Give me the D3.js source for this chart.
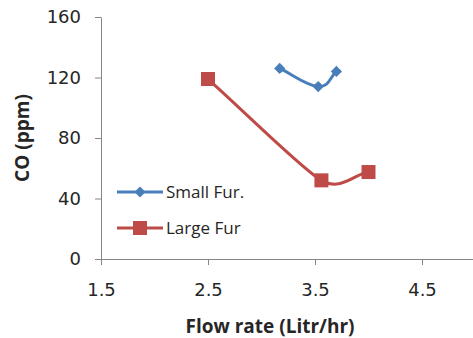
<!DOCTYPE html>
<html>
<head>
<meta charset="utf-8">
<script src="https://cdn.jsdelivr.net/npm/d3@7"></script>
<style>
  body { margin: 0; background: #fff; }
  svg text { font-family: "Open Sans", sans-serif; fill: #262626; }
</style>
</head>
<body>
<div id="chart"></div>
<script>
// data
const seriesNames = ["Small Fur.", "Large Fur"];
const smallFlow = [3.17, 3.53, 3.7];
const smallCO = [126, 114, 124];
const largeFlow = [2.5, 3.56, 4.0];
const largeCO = [119, 52, 57.5];
const xTicks = [1.5, 2.5, 3.5, 4.5];
const yTicks = [0, 40, 80, 120, 160];

const W = 473, H = 338;
const svg = d3.select('#chart').append('svg')
  .attr('width', W).attr('height', H);

const x = d3.scaleLinear().domain([1.5, 5]).range([101, 101 + 107 * 3.5]);
const y = d3.scaleLinear().domain([0, 160]).range([259, 17]);

// y axis
const gy = svg.append('g')
  .attr('transform', 'translate(101,0)')
  .call(d3.axisLeft(y).tickValues(yTicks).tickSize(6).tickPadding(14).tickSizeOuter(0));
gy.select('.domain').attr('stroke', '#868686');
gy.selectAll('.tick line').attr('stroke', '#868686');
gy.selectAll('.tick text').style('font-family', '"DejaVu Sans"').style('font-size', '18px').attr('fill', '#333');

// x axis
const gx = svg.append('g')
  .attr('transform', 'translate(0,259)')
  .call(d3.axisBottom(x).tickValues(xTicks).tickFormat(d3.format('.1f')).tickSize(6).tickPadding(18).tickSizeOuter(0));
gx.select('.domain').attr('stroke', '#868686');
gx.selectAll('.tick line').attr('stroke', '#868686');
gx.selectAll('.tick text').style('font-family', '"DejaVu Sans"').style('font-size', '18px').attr('fill', '#333');

// axis titles
svg.append('text')
  .attr('x', 270).attr('y', 333)
  .attr('text-anchor', 'middle')
  .style('font-size', '19px').style('font-weight', 'bold')
  .text('Flow rate (Litr/hr)');
svg.append('text')
  .attr('transform', 'translate(29,138) rotate(-90)')
  .attr('text-anchor', 'middle')
  .style('font-size', '19px').style('font-weight', 'bold')
  .text('CO (ppm)');

const colors = ['#4a7ebb', '#be4b48'];
const series = [
  smallFlow.map((f, i) => ({x: f, y: smallCO[i]})),
  largeFlow.map((f, i) => ({x: f, y: largeCO[i]}))
];

// smooth line like the spreadsheet one: tangent length limited by the shorter neighbouring segment
function smoothPath(pts) {
  const p = pts.map(d => [x(d.x), y(d.y)]);
  const n = p.length;
  const dist = (a, b) => Math.hypot(b[0] - a[0], b[1] - a[1]);
  const tan = p.map((pt, i) => {
    const a = p[Math.max(0, i - 1)], b = p[Math.min(n - 1, i + 1)];
    const dx = b[0] - a[0], dy = b[1] - a[1], len = Math.hypot(dx, dy) || 1;
    let m;
    if (i === 0) m = dist(p[0], p[1]);
    else if (i === n - 1) m = dist(p[n - 2], p[n - 1]);
    else m = 1.4 * Math.min(dist(p[i - 1], p[i]), dist(p[i], p[i + 1]));
    return [dx / len * m, dy / len * m];
  });
  const path = d3.path();
  path.moveTo(p[0][0], p[0][1]);
  for (let i = 0; i < n - 1; i++) {
    path.bezierCurveTo(
      p[i][0] + tan[i][0] / 3, p[i][1] + tan[i][1] / 3,
      p[i + 1][0] - tan[i + 1][0] / 3, p[i + 1][1] - tan[i + 1][1] / 3,
      p[i + 1][0], p[i + 1][1]);
  }
  return path.toString();
}

series.forEach((s, k) => {
  svg.append('path')
    .attr('fill', 'none')
    .attr('stroke', colors[k])
    .attr('stroke-width', 3)
    .attr('d', smoothPath(s));
});

// markers
function marker(g, k, cx, cy) {
  if (k === 0) {
    g.append('path')
      .attr('d', d3.symbol().type(d3.symbolDiamond2).size(80)())
      .attr('transform', `translate(${cx},${cy})`)
      .attr('fill', colors[k]);
  } else {
    g.append('rect')
      .attr('x', cx - 7).attr('y', cy - 7)
      .attr('width', 14).attr('height', 14)
      .attr('fill', colors[k]);
  }
}
series.forEach((s, k) => {
  s.forEach(d => marker(svg, k, x(d.x), y(d.y)));
});

// legend
const legY = [192, 228];
seriesNames.forEach((name, k) => {
  svg.append('line')
    .attr('x1', 117).attr('x2', 163)
    .attr('y1', legY[k]).attr('y2', legY[k])
    .attr('stroke', colors[k]).attr('stroke-width', 3);
  marker(svg, k, 140, legY[k]);
  svg.append('text')
    .attr('x', 166).attr('y', legY[k])
    .attr('dy', '0.35em')
    .style('font-size', '17px')
    .text(name);
});
</script>
</body>
</html>
